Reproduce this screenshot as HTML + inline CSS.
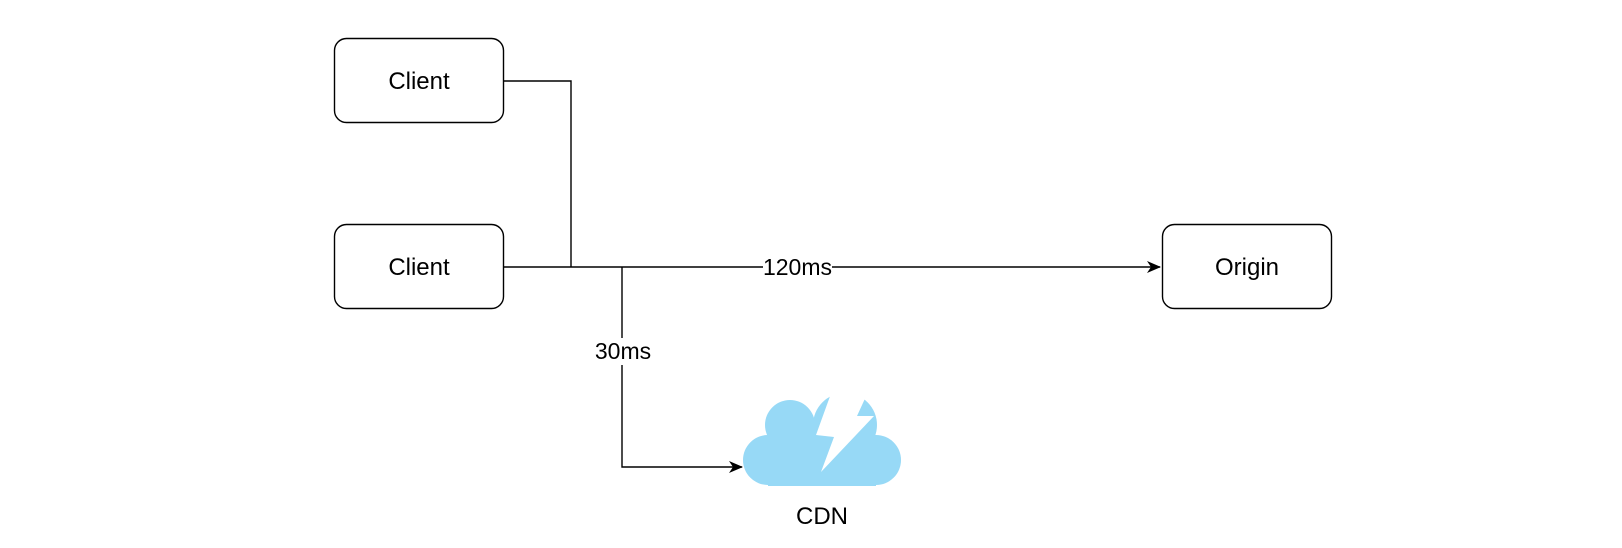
<!DOCTYPE html>
<html><head><style>
html,body{margin:0;padding:0;background:#fff;}
svg{display:block;}
text{font-family:"Liberation Sans",Helvetica,Arial,sans-serif;fill:#000;}
</style></head><body>
<svg width="1622" height="548" viewBox="0 0 1622 548" xmlns="http://www.w3.org/2000/svg">
<defs>
<marker id="a" markerWidth="14" markerHeight="12" refX="13" refY="6" orient="auto" markerUnits="userSpaceOnUse">
<path d="M0,0 L14,6 L0,12 L4,6 Z" fill="#000"/>
</marker>
</defs>
<g fill="#fff" stroke="#000" stroke-width="1.4">
<rect x="334.5" y="38.5" width="169" height="84" rx="12"/>
<rect x="334.5" y="224.5" width="169" height="84" rx="12"/>
<rect x="1162.5" y="224.5" width="169" height="84" rx="12"/>
</g>
<g font-size="24" text-anchor="middle">
<text x="419" y="89">Client</text>
<text x="419" y="275">Client</text>
<text x="1247" y="275">Origin</text>
</g>
<g stroke="#000" stroke-width="1.4" fill="none">
<polyline points="503.5,81 571,81 571,267"/>
<line x1="503.5" y1="267" x2="763" y2="267"/>
<line x1="832" y1="267" x2="1160" y2="267" marker-end="url(#a)"/>
<line x1="622" y1="267" x2="622" y2="338"/>
<polyline points="622,365 622,467 742,467" marker-end="url(#a)"/>
</g>
<text x="797.5" y="275" font-size="23" text-anchor="middle">120ms</text>
<text x="623" y="359" font-size="23" text-anchor="middle">30ms</text>
<g fill="#97d9f6">
<circle cx="768" cy="460" r="25"/>
<circle cx="876" cy="460" r="25"/>
<circle cx="790" cy="425" r="25"/>
<circle cx="845" cy="425" r="32"/>
<rect x="768" y="440" width="108" height="46"/>
<rect x="790" y="420" width="60" height="30"/>
</g>
<polygon points="833,388 816,435 834,437 821,472 874,416 857,416 868,392 860,388" fill="#fff"/>
<text x="822" y="524" font-size="24" text-anchor="middle">CDN</text>
</svg>
</body></html>
